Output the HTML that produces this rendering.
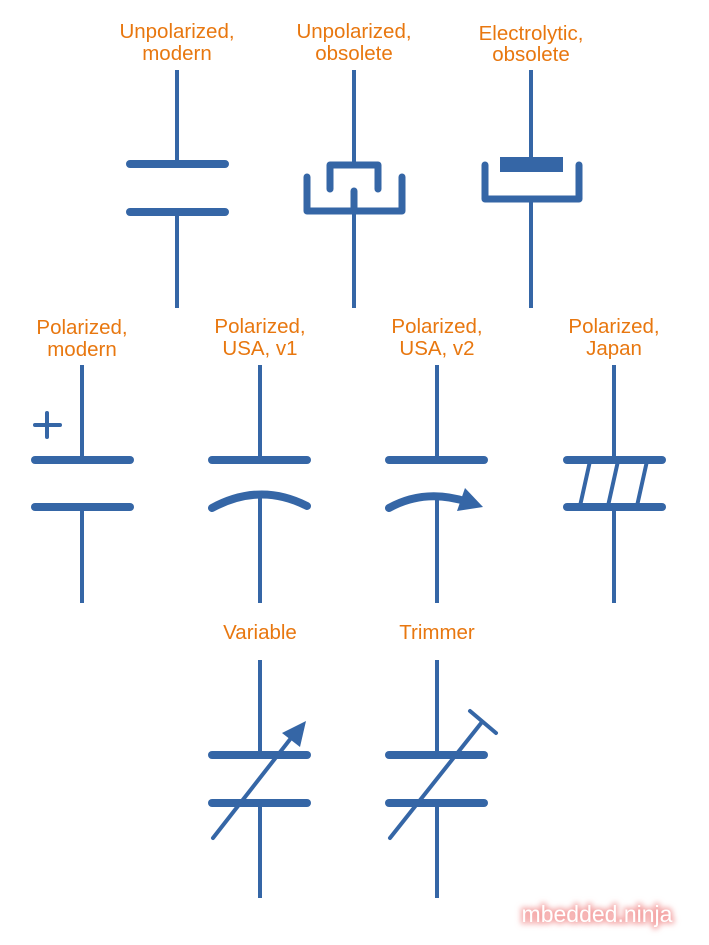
<!DOCTYPE html>
<html><head><style>
html,body{margin:0;padding:0;background:#fff;}
svg{display:block;}
text{font-family:"Liberation Sans",sans-serif;font-size:20.5px;fill:#e8770f;text-anchor:middle;}
</style></head><body>
<svg width="709" height="945" viewBox="0 0 709 945" xmlns="http://www.w3.org/2000/svg">
<g>
<text x="177" y="38">Unpolarized,</text><text x="177" y="60">modern</text>
<text x="354" y="38">Unpolarized,</text><text x="354" y="60">obsolete</text>
<text x="531" y="40">Electrolytic,</text><text x="531" y="61">obsolete</text>
<text x="82" y="334">Polarized,</text><text x="82" y="356">modern</text>
<text x="260" y="333">Polarized,</text><text x="260" y="355">USA, v1</text>
<text x="437" y="333">Polarized,</text><text x="437" y="355">USA, v2</text>
<text x="614" y="333">Polarized,</text><text x="614" y="355">Japan</text>
<text x="260" y="639">Variable</text>
<text x="437" y="639">Trimmer</text>
</g>
<g stroke="#3566a6" fill="none" stroke-linecap="round" stroke-linejoin="round">
<line x1="177" y1="70" x2="177" y2="164" stroke-width="4" stroke-linecap="butt"/>
<line x1="177" y1="212" x2="177" y2="308" stroke-width="4" stroke-linecap="butt"/>
<line x1="130" y1="164" x2="225" y2="164" stroke-width="8"/>
<line x1="130" y1="212" x2="225" y2="212" stroke-width="8"/>
<line x1="354" y1="70" x2="354" y2="164" stroke-width="4" stroke-linecap="butt"/>
<polyline points="330,189 330,165 378,165 378,189" stroke-width="7"/>
<polyline points="307,177 307,211 402,211 402,177" stroke-width="7"/>
<line x1="354" y1="191" x2="354" y2="308" stroke-width="4" stroke-linecap="butt"/>
<line x1="354" y1="191" x2="354" y2="211" stroke-width="7"/>
<line x1="531" y1="70" x2="531" y2="158" stroke-width="4" stroke-linecap="butt"/>
<rect x="500" y="157" width="63" height="15" fill="#3566a6" stroke="none"/>
<polyline points="485,165 485,199 579,199 579,165" stroke-width="7"/>
<line x1="531" y1="202" x2="531" y2="308" stroke-width="4" stroke-linecap="butt"/>
<line x1="82" y1="365" x2="82" y2="460" stroke-width="4" stroke-linecap="butt"/>
<line x1="82" y1="507" x2="82" y2="603" stroke-width="4" stroke-linecap="butt"/>
<line x1="35" y1="460" x2="130" y2="460" stroke-width="8"/>
<line x1="35" y1="507" x2="130" y2="507" stroke-width="8"/>
<line x1="35" y1="425" x2="60" y2="425" stroke-width="4"/>
<line x1="47" y1="413" x2="47" y2="437" stroke-width="4"/>
<line x1="260" y1="365" x2="260" y2="460" stroke-width="4" stroke-linecap="butt"/>
<line x1="260" y1="494" x2="260" y2="603" stroke-width="4" stroke-linecap="butt"/>
<line x1="212" y1="460" x2="307" y2="460" stroke-width="8"/>
<path d="M212,508 Q260,482 307,506" stroke-width="8"/>
<line x1="437" y1="365" x2="437" y2="460" stroke-width="4" stroke-linecap="butt"/>
<line x1="437" y1="494" x2="437" y2="603" stroke-width="4" stroke-linecap="butt"/>
<line x1="389" y1="460" x2="484" y2="460" stroke-width="8"/>
<path d="M389,508 Q425,488 468,502" stroke-width="8"/>
<polygon points="465,488 483,507 457,511" fill="#3566a6" stroke="none"/>
<line x1="614" y1="365" x2="614" y2="460" stroke-width="4" stroke-linecap="butt"/>
<line x1="614" y1="507" x2="614" y2="603" stroke-width="4" stroke-linecap="butt"/>
<line x1="567" y1="460" x2="662" y2="460" stroke-width="8"/>
<line x1="567" y1="507" x2="662" y2="507" stroke-width="8"/>
<line x1="580" y1="506" x2="590" y2="461" stroke-width="4"/>
<line x1="608" y1="506" x2="618" y2="461" stroke-width="4"/>
<line x1="637" y1="506" x2="647" y2="461" stroke-width="4"/>
<line x1="260" y1="660" x2="260" y2="755" stroke-width="4" stroke-linecap="butt"/>
<line x1="260" y1="803" x2="260" y2="898" stroke-width="4" stroke-linecap="butt"/>
<line x1="212" y1="755" x2="307" y2="755" stroke-width="8"/>
<line x1="212" y1="803" x2="307" y2="803" stroke-width="8"/>
<line x1="213" y1="838" x2="295" y2="733" stroke-width="4"/>
<polygon points="282,733 306,721 300,747" fill="#3566a6" stroke="none"/>
<line x1="437" y1="660" x2="437" y2="755" stroke-width="4" stroke-linecap="butt"/>
<line x1="437" y1="803" x2="437" y2="898" stroke-width="4" stroke-linecap="butt"/>
<line x1="389" y1="755" x2="484" y2="755" stroke-width="8"/>
<line x1="389" y1="803" x2="484" y2="803" stroke-width="8"/>
<line x1="390" y1="838" x2="482" y2="722" stroke-width="4"/>
<line x1="470" y1="711" x2="496" y2="733" stroke-width="4"/>
</g>
<defs><filter id="g" x="-20%" y="-50%" width="140%" height="200%"><feGaussianBlur stdDeviation="3"/></filter></defs>
<text x="597" y="922" style="font-size:23px;fill:#f4a8a8" stroke="#f4a8a8" stroke-width="4" filter="url(#g)">mbedded.ninja</text>
<text x="597" y="922" style="font-size:23px;fill:#ffffff">mbedded.ninja</text>
</svg>
</body></html>
